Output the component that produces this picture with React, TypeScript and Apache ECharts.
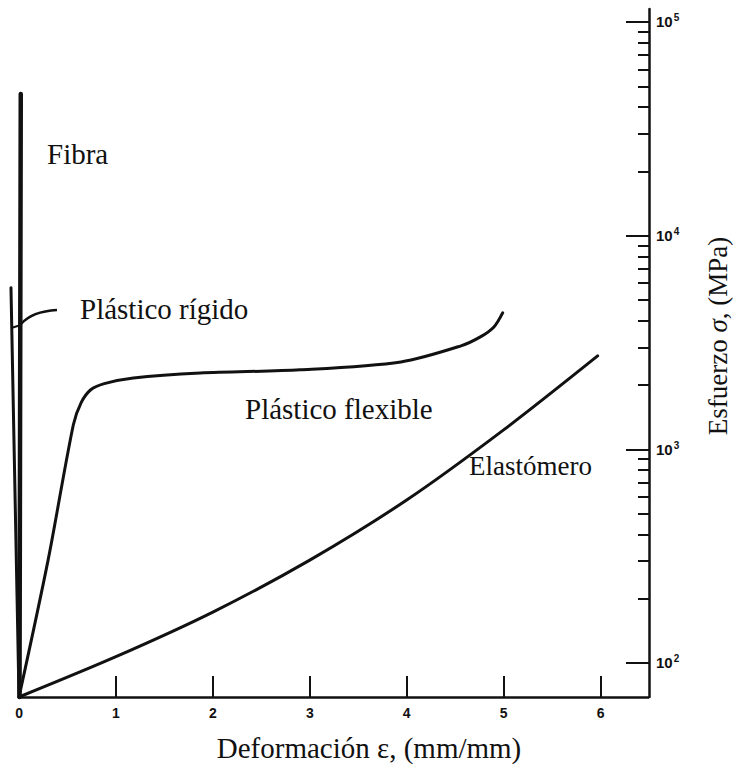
import React, { useEffect, useRef } from "react";
import * as echarts from "echarts";

// ---- Data ----
const strainTickValues = [1, 2, 3, 4, 5, 6];
const strainLabelValues = [0, 1, 2, 3, 4, 5, 6];
const stressMajorTicks = [100, 1000, 10000, 100000];
const stressTickExponents = ["2", "3", "4", "5"];
const stressMinorTicks = [
  200, 300, 400, 500, 600, 700, 800, 900,
  2000, 3000, 4000, 5000, 6000, 7000, 8000, 9000,
  20000, 30000, 40000, 50000, 60000, 70000, 80000, 90000,
];

const fibraData: [number, number][] = [
  [0.005, 69.3],
  [0.018, 46000],
];
const rigidoData: [number, number][] = [
  [0.0, 69.3],
  [-0.083, 5700],
];
const flexibleData: [number, number][] = [
  [0, 69.3],
  [0.3, 303],
  [0.56, 1300],
  [0.64, 1650],
  [0.74, 1900],
  [0.88, 2030],
  [1.18, 2158],
  [1.87, 2275],
  [2.9, 2355],
  [3.94, 2564],
  [4.56, 3048],
  [4.76, 3357],
  [4.9, 3738],
  [4.99, 4349],
];
const elastomeroData: [number, number][] = [
  [0, 69.3],
  [1, 107],
  [2, 173],
  [3, 303],
  [4, 579],
  [5, 1233],
  [5.97, 2737],
];

const X_AXIS_START = 0;
const X_MIN = -0.15;
const X_MAX = 6.5;
const Y_MIN = 69.3;
const Y_MAX = 115000;

const serif = "Liberation Serif";
const sans = "Liberation Sans";
const ink = "#111";

const PX_PER_UNIT = 96.8;
const GRID_RIGHT = 84;
const GRID_LEFT = 19 + (X_MIN - X_AXIS_START) * PX_PER_UNIT;
const GRID_WIDTH = 733 - GRID_LEFT - GRID_RIGHT;

export default function App() {
  const ref = useRef<HTMLDivElement>(null);

  useEffect(() => {
    if (!ref.current) return;
    const chart = echarts.init(ref.current, undefined, { renderer: "svg" });

    const lineSeries = (name: string, data: [number, number][], width: number, smooth: number | boolean, extra: any = {}) => ({
      name,
      type: "line",
      data,
      xAxisIndex: 0,
      yAxisIndex: 0,
      showSymbol: false,
      symbol: "none",
      smooth,
      clip: false,
      lineStyle: { color: ink, width, cap: "round", join: "round" },
      z: 3,
      ...extra,
    });

    const label = (text: string, left: number, top: number, size: number) => ({
      type: "text",
      left,
      top,
      style: {
        text: `{a|${text}}`,
        rich: { a: { fontFamily: serif, fontSize: size, color: ink } },
        fill: ink,
      },
    });

    chart.setOption({
      animation: false,
      backgroundColor: "#fff",
      grid: { left: GRID_LEFT, right: GRID_RIGHT, top: 9, bottom: 74, containLabel: false },
      xAxis: {
        type: "value",
        min: X_MIN,
        max: X_MAX,
        axisLine: { show: false },
        axisTick: {
          show: true,
          inside: true,
          length: 21,
          customValues: strainTickValues,
          lineStyle: { color: ink, width: 2 },
        },
        axisLabel: {
          show: true,
          customValues: strainLabelValues,
          margin: 9,
          color: ink,
          fontFamily: sans,
          fontWeight: "bold",
          fontSize: 14,
          formatter: (v: number) => String(Math.round(v)),
        },
        splitLine: { show: false },
      },
      yAxis: [
        {
          type: "log",
          logBase: 10,
          position: "right",
          min: Y_MIN,
          max: Y_MAX,
          axisLine: { show: true, onZero: false, lineStyle: { color: ink, width: 2.5 } },
          axisTick: {
            show: true,
            inside: true,
            length: 23,
            customValues: stressMajorTicks,
            lineStyle: { color: ink, width: 2 },
          },
          axisLabel: {
            show: true,
            customValues: stressMajorTicks,
            margin: 7,
            formatter: (v: number) => {
              const i = stressMajorTicks.findIndex((t) => Math.abs(Math.log10(t) - Math.log10(v)) < 0.01);
              return i >= 0 ? `{b|10}{s|${stressTickExponents[i]}}` : "";
            },
            rich: {
              b: { fontFamily: sans, fontWeight: "bold", fontSize: 15, color: ink, lineHeight: 18 },
              s: { fontFamily: sans, fontWeight: "bold", fontSize: 10, color: ink, verticalAlign: "top", lineHeight: 18, padding: [0, 0, 7, 1] },
            },
          },
          splitLine: { show: false },
        },
        {
          // minor log ticks drawn on the same (right) edge, pointing into the plot
          type: "log",
          logBase: 10,
          position: "left",
          offset: -GRID_WIDTH,
          min: Y_MIN,
          max: Y_MAX,
          axisLine: { show: false },
          axisTick: {
            show: true,
            inside: false,
            length: 11,
            customValues: stressMinorTicks,
            lineStyle: { color: ink, width: 2 },
          },
          axisLabel: { show: false },
          splitLine: { show: false },
        },
      ],
      series: [
        lineSeries("Fibra", fibraData, 4.5, false, {
          // the strain axis line, starting at 0
          markLine: {
            silent: true,
            symbol: "none",
            label: { show: false },
            lineStyle: { color: ink, width: 2.5, type: "solid" },
            data: [[{ coord: [X_AXIS_START, Y_MIN] }, { coord: [X_MAX, Y_MIN] }]],
          },
        }),
        lineSeries("Plástico rígido", rigidoData, 3, false),
        lineSeries("Plástico flexible", flexibleData, 3, 0.3),
        lineSeries("Elastómero", elastomeroData, 3, 0.3),
      ],
      graphic: [
        label("Fibra", 47, 139, 29),
        label("Plástico rígido", 80, 294, 29),
        label("Plástico flexible", 245, 394, 29),
        label("Elastómero", 469, 452, 27),
        {
          type: "bezierCurve",
          shape: { x1: 57, y1: 310, cpx1: 40, cpy1: 311, cpx2: 28, cpy2: 316, x2: 21, y2: 324 },
          style: { stroke: ink, lineWidth: 2.5, fill: "none" },
          z: 5,
        },
        {
          type: "line",
          shape: { x1: 21, y1: 325, x2: 11, y2: 328 },
          style: { stroke: ink, lineWidth: 2 },
          z: 5,
        },
        {
          type: "text",
          x: 369,
          y: 748,
          style: {
            text: "{a|Deformación ε, (mm/mm)}",
            rich: { a: { fontFamily: serif, fontSize: 29, color: ink } },
            align: "center",
            verticalAlign: "middle",
            fill: ink,
          },
        },
        {
          type: "text",
          x: 718,
          y: 336,
          rotation: Math.PI / 2,
          style: {
            text: "{a|Esfuerzo }{i|σ}{a|, (MPa)}",
            align: "center",
            verticalAlign: "middle",
            fill: ink,
            rich: {
              a: { fontFamily: serif, fontSize: 27, color: ink },
              i: { fontFamily: serif, fontSize: 27, fontStyle: "italic", color: ink },
            },
          },
        },
      ],
    });

    return () => chart.dispose();
  }, []);

  return (
    <div
      ref={ref}
      style={{ position: "fixed", left: 0, top: 0, width: 733, height: 771, background: "#fff" }}
    />
  );
}
